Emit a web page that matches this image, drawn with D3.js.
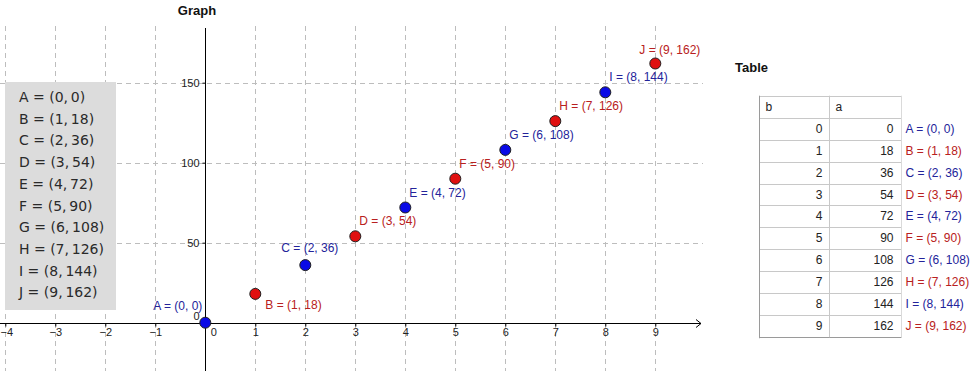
<!DOCTYPE html>
<html>
<head>
<meta charset="utf-8">
<script src="https://cdn.jsdelivr.net/npm/d3@7"></script>
<style>
  body { margin: 0; background: #fff; }
  svg { display: block; font-family: "Liberation Sans", Arial, sans-serif; }
</style>
</head>
<body>
<svg id="chart" width="973" height="371"></svg>
<script>
// ========= Data
const names = ["A", "B", "C", "D", "E", "F", "G", "H", "I", "J"];
const bVals = [0, 1, 2, 3, 4, 5, 6, 7, 8, 9];
const aVals = [0, 18, 36, 54, 72, 90, 108, 126, 144, 162];
const pointColors = ["blue", "red", "blue", "red", "blue", "red", "blue", "red", "blue", "red"];
const xTicks = [-4, -3, -2, -1, 0, 1, 2, 3, 4, 5, 6, 7, 8, 9];
const yTicks = [0, 50, 100, 150];
const tableHeaders = ["b", "a"];

const fills = { blue: "#0a0ae6", red: "#e01010" };
const labelColors = { blue: "#23239a", red: "#b82020" };

// label offsets (dx, dy from the point, left anchored) — GeoGebra puts most up-right
const labelOffset = { A: [-52, -13], B: [10, 15], C: [-24, -13], J: [-16, -10] };
const defaultOffset = [4, -11];

const svg = d3.select("#chart");

// ========= Scales
const x = d3.scaleLinear().domain([-4, 9]).range([5.3, 655.3]);
const y = d3.scaleLinear().domain([0, 150]).range([322.7, 82.7]);

const pts = names.map((n, i) => ({ name: n, b: bVals[i], a: aVals[i], c: pointColors[i] }));
const ptLabel = d => `${d.name} = (${d.b}, ${d.a})`;

// ========= Grid
const grid = svg.append("g").attr("stroke", "#bdbdbd").attr("stroke-dasharray", "5,4").attr("stroke-width", 1);
grid.selectAll("line.v")
  .data(xTicks.filter(t => t !== 0))
  .enter().append("line")
  .attr("x1", d => Math.round(x(d)) + 0.5).attr("x2", d => Math.round(x(d)) + 0.5)
  .attr("y1", 26).attr("y2", 371);
grid.selectAll("line.h")
  .data(yTicks.filter(t => t !== 0))
  .enter().append("line")
  .attr("x1", 0).attr("x2", 703)
  .attr("y1", d => Math.round(y(d)) + 0.5).attr("y2", d => Math.round(y(d)) + 0.5);

// ========= Axes
const x0 = Math.round(y(0)) + 0.5;
const xAxis = svg.append("g")
  .attr("transform", `translate(0,${x0})`)
  .call(d3.axisBottom(x).tickValues(xTicks).tickSize(3).tickSizeOuter(0).tickFormat(d3.format("d")));
xAxis.select(".domain").attr("d", `M0,0H701`).attr("stroke", "#000");
xAxis.selectAll(".tick line").attr("stroke", "#000");
xAxis.selectAll(".tick text")
  .attr("font-size", 11).attr("fill", "#222").attr("font-family", "Liberation Sans, Arial, sans-serif")
  .attr("y", 5)
  .attr("dx", d => d === 0 ? 8 : (d === -4 ? 1 : 0));
svg.append("path")
  .attr("d", `M696,${x0 - 4}L701,${x0}L696,${x0 + 4}`)
  .attr("fill", "none").attr("stroke", "#000");

const yAxis = svg.append("g")
  .attr("transform", `translate(${Math.round(x(0)) + 0.5},0)`)
  .call(d3.axisLeft(y).tickValues(yTicks).tickSize(3).tickSizeOuter(0));
yAxis.select(".domain").attr("d", `M0,28V371`).attr("stroke", "#000");
yAxis.selectAll(".tick line").attr("stroke", "#000");
yAxis.selectAll(".tick text")
  .attr("font-size", 11).attr("fill", "#222").attr("font-family", "Liberation Sans, Arial, sans-serif")
  .attr("x", -6)
  .attr("dy", d => d === 0 ? "-0.25em" : "0.32em");

// ========= Title
svg.append("text").attr("x", 197).attr("y", 15).attr("text-anchor", "middle")
  .attr("font-weight", "bold").attr("font-size", 13).attr("fill", "#111").text("Graph");

// ========= Algebra box
svg.append("rect").attr("x", 5).attr("y", 82).attr("width", 111).attr("height", 228).attr("fill", "#dcdcdc");
svg.selectAll("text.alg")
  .data(pts)
  .enter().append("text")
  .attr("class", "alg")
  .attr("x", 19)
  .attr("y", (d, i) => 102 + i * 21.7)
  .attr("font-family", "DejaVu Sans, sans-serif")
  .attr("font-size", 14)
  .attr("fill", "#2a2a2a")
  .text(d => `${d.name} = (${d.b},\u2009${d.a})`);

// ========= Points + labels
svg.selectAll("circle.pt")
  .data(pts)
  .enter().append("circle")
  .attr("class", "pt")
  .attr("cx", d => x(d.b))
  .attr("cy", d => y(d.a))
  .attr("r", 5.5)
  .attr("fill", d => fills[d.c])
  .attr("stroke", "#202020")
  .attr("stroke-width", 1);

svg.selectAll("text.plabel")
  .data(pts)
  .enter().append("text")
  .attr("class", "plabel")
  .attr("x", d => x(d.b) + (labelOffset[d.name] || defaultOffset)[0])
  .attr("y", d => y(d.a) + (labelOffset[d.name] || defaultOffset)[1])
  .attr("font-size", 12)
  .attr("fill", d => labelColors[d.c])
  .text(ptLabel);

// ========= Table
svg.append("text").attr("x", 735).attr("y", 72)
  .attr("font-weight", "bold").attr("font-size", 13).attr("fill", "#111").text("Table");

const rowH = 21.96, tTop = 95.7, c0 = 759.5, c1 = 829.5, c2 = 901.5;
const rowY = d3.scaleLinear().domain([0, 11]).range([tTop, tTop + 11 * rowH]);
const tbl = svg.append("g");

tbl.selectAll("line.row")
  .data(d3.range(0, 12))
  .enter().append("line")
  .attr("x1", c0).attr("x2", c2)
  .attr("y1", d => Math.round(rowY(d)) + 0.5).attr("y2", d => Math.round(rowY(d)) + 0.5)
  .attr("stroke", d => d === 11 ? "#9a9a9a" : "#c8c8c8");
tbl.append("line").attr("x1", c0).attr("x2", c0).attr("y1", rowY(0)).attr("y2", rowY(11) + 1).attr("stroke", "#9a9a9a");
tbl.append("line").attr("x1", c1).attr("x2", c1).attr("y1", rowY(0)).attr("y2", rowY(11)).attr("stroke", "#c8c8c8");
tbl.append("line").attr("x1", c2).attr("x2", c2).attr("y1", rowY(0)).attr("y2", rowY(11)).attr("stroke", "#dadada");

tbl.selectAll("text.hdr")
  .data(tableHeaders)
  .enter().append("text")
  .attr("x", (d, i) => (i === 0 ? c0 : c1) + 6)
  .attr("y", rowY(0.5) + 4)
  .attr("font-size", 12).attr("fill", "#222").text(d => d);

const rows = tbl.selectAll("g.trow")
  .data(pts)
  .enter().append("g")
  .attr("transform", (d, i) => `translate(0,${rowY(i + 1.5) + 4})`);
rows.append("text").attr("x", c1 - 7).attr("text-anchor", "end")
  .attr("font-size", 12).attr("fill", "#222").text(d => d.b);
rows.append("text").attr("x", c2 - 8).attr("text-anchor", "end")
  .attr("font-size", 12).attr("fill", "#222").text(d => d.a);
rows.append("text").attr("x", c2 + 4)
  .attr("font-size", 12).attr("fill", d => labelColors[d.c]).text(ptLabel);
</script>
</body>
</html>
